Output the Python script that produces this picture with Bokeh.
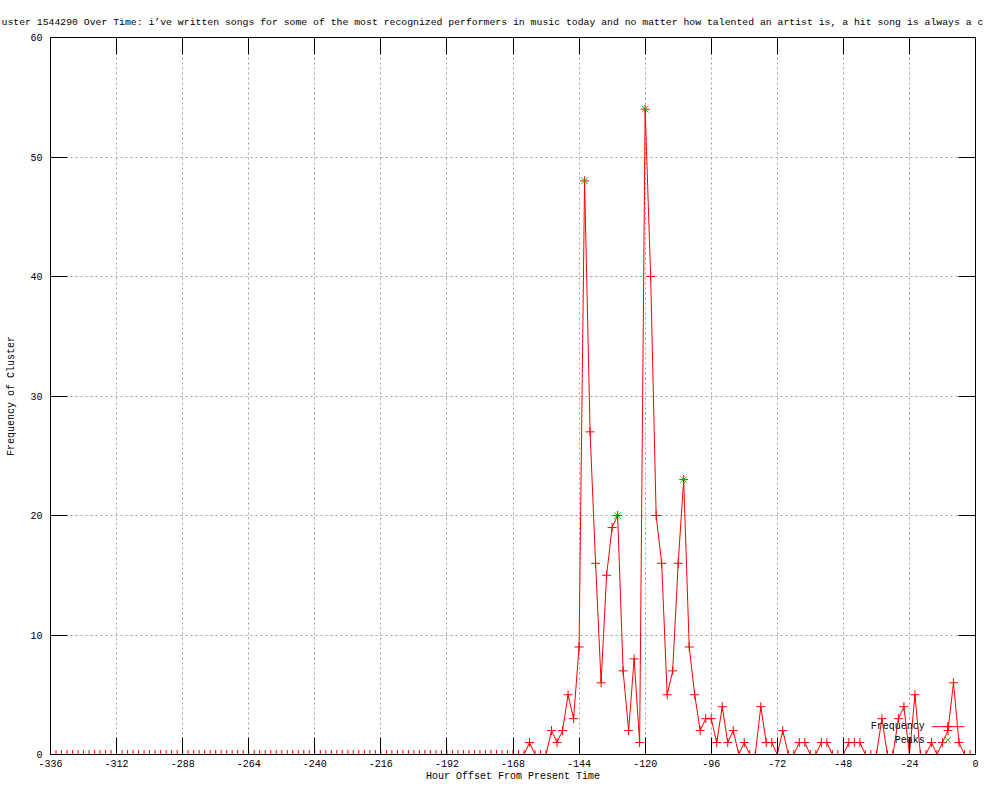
from bokeh.plotting import figure
from bokeh.models import Range1d, FixedTicker, LinearAxis, Label, ColumnDataSource
from bokeh.embed import file_html
from bokeh.resources import INLINE

# ---------------- data ----------------
title_text = ("uster 1544290 Over Time: i\u2019ve written songs for some of the most recognized "
              "performers in music today and no matter how talented an artist is, a hit song is always a c")
x_label = "Hour Offset From Present Time"
y_label = "Frequency of Cluster"

hours = list(range(-336, 0, 2))
frequency = [
    0, 0, 0, 0, 0, 0, 0, 0, 0, 0, 0, 0,
    0, 0, 0, 0, 0, 0, 0, 0, 0, 0, 0, 0,
    0, 0, 0, 0, 0, 0, 0, 0, 0, 0, 0, 0,
    0, 0, 0, 0, 0, 0, 0, 0, 0, 0, 0, 0,
    0, 0, 0, 0, 0, 0, 0, 0, 0, 0, 0, 0,
    0, 0, 0, 0, 0, 0, 0, 0, 0, 0, 0, 0,
    0, 0, 0, 0, 0, 0, 0, 0, 0, 0, 0, 0,
    0, 0, 0, 1, 0, 0, 0, 2, 1, 2, 5, 3,
    9, 48, 27, 16, 6, 15, 19, 20, 7, 2, 8, 1,
    54, 40, 20, 16, 5, 7, 16, 23, 9, 5, 2, 3,
    3, 1, 4, 1, 2, 0, 1, 0, 0, 4, 1, 1,
    0, 2, 0, 0, 1, 1, 0, 0, 1, 1, 0, 0,
    0, 1, 1, 1, 0, 0, 0, 3, 0, 0, 3, 4,
    0, 5, 0, 0, 1, 0, 1, 2, 6, 1, 0, 0,
]
peak_hours = [-142, -130, -120, -106]
peak_values = [48, 20, 54, 23]

x_ticks = [-336, -312, -288, -264, -240, -216, -192, -168, -144, -120, -96, -72, -48, -24, 0]
x_tick_labels = ["-336", "-312", "-288", "-264", "-240", "-216", "-192", "-168",
                 "-144", "-120", "-96", "-72", "-48", "-24", "0"]
y_ticks = [0, 10, 20, 30, 40, 50, 60]
y_tick_labels = ["0", "10", "20", "30", "40", "50", "60"]
series_names = ["Frequency", "Peaks"]

# ---------------- style ----------------
FONT = "Liberation Mono"
FS = "10px"
RED = "#ff0000"
GREEN = "#00c000"
GRID = "#a0a0a0"
TICK = 17

p = figure(width=984, height=784,
           x_range=Range1d(-336, 0), y_range=Range1d(0, 60),
           output_backend="svg", toolbar_location=None,
           min_border_left=50, min_border_right=9, min_border_top=37, min_border_bottom=30,
           background_fill_color="white", border_fill_color="white")
p.outline_line_color = "black"
p.outline_line_width = 1

# title (clipped at both ends, as in the original)
p.title.text = title_text
p.title.align = "left"
p.title.offset = -49
p.title.standoff = 19
p.title.text_font = FONT
p.title.text_font_size = "9.8px"
p.title.text_font_style = "normal"
p.title.text_color = "black"

# axes
xa = p.xaxis[0]
ya = p.yaxis[0]
xa.ticker = FixedTicker(ticks=x_ticks)
ya.ticker = FixedTicker(ticks=y_ticks)
xa.major_label_overrides = {t: l for t, l in zip(x_ticks, x_tick_labels)}
ya.major_label_overrides = {t: l for t, l in zip(y_ticks, y_tick_labels)}
xa.axis_label = x_label
ya.axis_label = y_label

for ax in (xa, ya):
    ax.major_tick_in = TICK
    ax.major_tick_out = 0
    ax.minor_tick_in = 0
    ax.minor_tick_out = 0
    ax.axis_line_color = "black"
    ax.major_tick_line_color = "black"
    ax.major_label_text_font = FONT
    ax.major_label_text_font_size = FS
    ax.major_label_text_color = "black"
    ax.axis_label_text_font = FONT
    ax.axis_label_text_font_size = FS
    ax.axis_label_text_font_style = "normal"
    ax.axis_label_text_color = "black"

xa.major_label_standoff = 5
xa.axis_label_standoff = 1
ya.major_label_standoff = 8
ya.axis_label_standoff = 10

# mirrored ticks (no labels)
top = LinearAxis(ticker=FixedTicker(ticks=x_ticks), major_tick_in=TICK, major_tick_out=0,
                 minor_tick_in=0, minor_tick_out=0, major_label_text_font_size="1px",
                 major_label_text_color=None, major_label_standoff=0, axis_line_color="black")
right = LinearAxis(ticker=FixedTicker(ticks=y_ticks), major_tick_in=TICK, major_tick_out=0,
                   minor_tick_in=0, minor_tick_out=0, major_label_text_font_size="1px",
                   major_label_text_color=None, major_label_standoff=0, axis_line_color="black")
p.add_layout(top, "above")
p.add_layout(right, "right")

# grid
p.xgrid.ticker = FixedTicker(ticks=x_ticks)
p.ygrid.ticker = FixedTicker(ticks=y_ticks)
for g in (p.xgrid, p.ygrid):
    g.grid_line_color = GRID
    g.grid_line_dash = "2 3"
    g.grid_line_width = 1

# data
src = ColumnDataSource(dict(x=hours, y=frequency))
p.line("x", "y", source=src, line_color=RED, line_width=1)
p.scatter("x", "y", source=src, marker="cross", size=9, line_color=RED, line_width=1)
psrc = ColumnDataSource(dict(x=peak_hours, y=peak_values))
p.scatter("x", "y", source=psrc, marker="x", size=9, line_color=GREEN, line_width=1)

# custom gnuplot-style key (text left, sample right)
key_text_x = -18.4
key_line_x0, key_line_x1, key_mid = -15.9, -4.0, -10.1
key_y = [2.33, 1.2]
for name, ky in zip(series_names, key_y):
    p.add_layout(Label(x=key_text_x, y=ky, text=name, text_align="right",
                       text_baseline="middle", text_font=FONT, text_font_size=FS,
                       text_color="black"))
p.segment(x0=[key_line_x0], y0=[key_y[0]], x1=[key_line_x1], y1=[key_y[0]],
          line_color=RED, line_width=1)
p.scatter(x=[key_mid], y=[key_y[0]], marker="cross", size=9, line_color=RED, line_width=1)
p.scatter(x=[key_mid], y=[key_y[1]], marker="x", size=9, line_color=GREEN, line_width=1)

open("out.html", "w").write(file_html(p, INLINE))
